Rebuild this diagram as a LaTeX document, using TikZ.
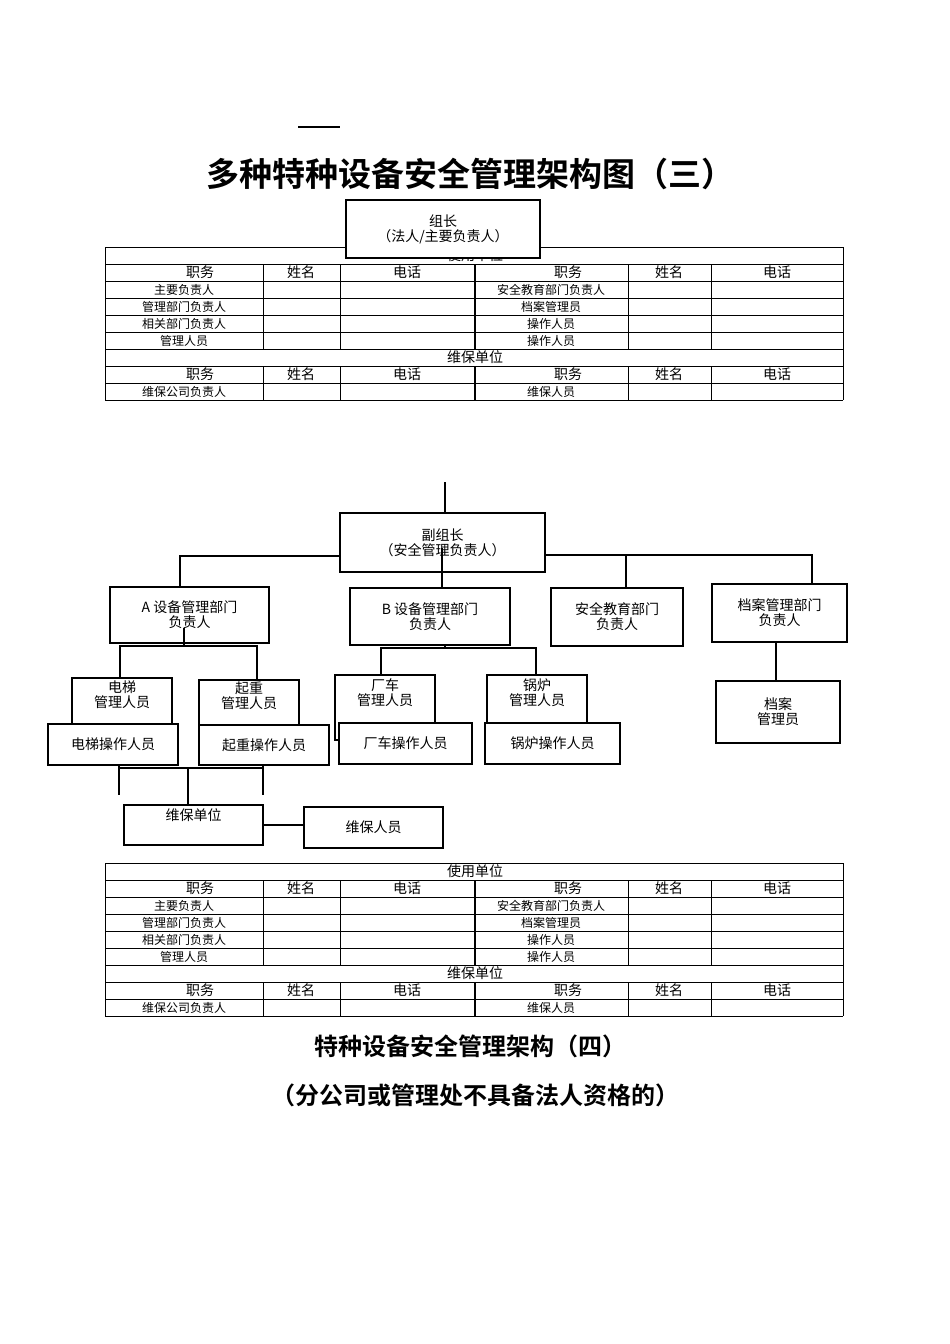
\documentclass[tikz,border=0pt]{standalone}
\usepackage{fontspec}
\setmainfont{Noto Sans CJK SC}
\newfontfamily\cjkb{Noto Sans CJK SC}[BoldFont={* Bold}]
\begin{document}
\begin{tikzpicture}[x=1pt,y=-1pt,
  box/.style={draw,line width=1.8pt,fill=white,align=center,font=\fontsize{14}{15}\selectfont,inner sep=0pt},
  ln/.style={line width=1.8pt},
  tl/.style={line width=0.6pt},
  th/.style={font=\fontsize{14}{14}\selectfont,inner sep=0pt},
  tb/.style={font=\fontsize{12}{12}\selectfont,inner sep=0pt}]
\useasboundingbox (0,0) rectangle (950,1344);
\newcommand\bx[6]{\node[box,minimum width={(#4-#2)*1pt},minimum height={(#5-#3)*1pt}] (#1) at ({(#2+#4)/2},{(#3+#5)/2}) {#6};}
\newcommand\fulltable[1]{%
\begin{scope}[shift={(0,#1)}]
\foreach \y in {0,17,34,51,68,85,102,119,136,153} \draw[tl] (105,\y) -- (843,\y);
\draw[tl] (105,0) -- (105,153) (843,0) -- (843,153);
\foreach \x in {263,340,628,711} \draw[tl] (\x,17) -- (\x,102) (\x,119) -- (\x,153);
\draw[line width=1.2pt] (475,17) -- (475,102) (475,119) -- (475,153);
\node[th] at (475,8.5) {使用单位};
\node[th] at (475,110.5) {维保单位};
\foreach \r in {25.5,127.5}{
 \node[th] at (200,\r) {职务}; \node[th] at (301,\r) {姓名}; \node[th] at (407,\r) {电话};
 \node[th] at (568,\r) {职务}; \node[th] at (669,\r) {姓名}; \node[th] at (777,\r) {电话};}
\node[tb] at (184,42.5) {主要负责人}; \node[tb] at (551,42.5) {安全教育部门负责人};
\node[tb] at (184,59.5) {管理部门负责人}; \node[tb] at (551,59.5) {档案管理员};
\node[tb] at (184,76.5) {相关部门负责人}; \node[tb] at (551,76.5) {操作人员};
\node[tb] at (184,93.5) {管理人员}; \node[tb] at (551,93.5) {操作人员};
\node[tb] at (184,144.5) {维保公司负责人}; \node[tb] at (551,144.5) {维保人员};
\end{scope}}
% dash and title
\draw[line width=2pt] (298,127) -- (340,127);
\node[font=\cjkb\bfseries\fontsize{33}{33}\selectfont] (title) at (470,174) {多种特种设备安全管理架构图（三）};
\fulltable{247}
\bx{zz}{346}{200}{540}{258}{组长\\（法人/主要负责人）}
% org chart
\bx{fzz}{340}{513}{545}{572}{副组长\\（安全管理负责人）}
\coordinate (top) at (445,482);
\draw[ln] (top) -- (top |- fzz.north);
\draw[ln] (fzz.west |- 0,556) -- (180,556) -- (180,587);
\draw[ln] (fzz.east |- 0,555) -- (812,555) -- (812,584);
\draw[ln] (626,555) -- (626,588);
\draw[ln] (442,548) -- (442,588);
\bx{A}{110}{587}{269}{643}{A 设备管理部门\\负责人}
\bx{B}{350}{588}{510}{645}{B 设备管理部门\\负责人}
\bx{S}{551}{588}{683}{646}{安全教育部门\\负责人}
\bx{D}{712}{584}{847}{642}{档案管理部门\\负责人}
\draw[ln] (184,628) -- (184,646);
\draw[ln] (120,677) -- (120,646) -- (257,646) -- (257,680);
\draw[ln] (381,675) -- (381,648) -- (536,648) -- (536,675);
\draw[ln] (445,645) -- (445,648);
\bx{dtg}{72}{678}{172}{728}{电梯\\管理人员\\[3pt]}
\bx{qzg}{199}{680}{299}{728}{起重\\管理人员\\[3pt]}
\bx{cg}{335}{675}{435}{740}{厂车\\管理人员\\[16pt]}
\bx{gg}{487}{675}{587}{728}{锅炉\\管理人员\\[3pt]}
\bx{dto}{48}{724}{178}{765}{电梯操作人员}
\bx{qzo}{199}{725}{329}{765}{起重操作人员}
\bx{co}{339}{723}{472}{764}{厂车操作人员}
\bx{go}{485}{723}{620}{764}{锅炉操作人员}
\bx{dag}{716}{681}{840}{743}{档案\\管理员}
\draw[ln] (D.south -| 776,0) -- (dag.north -| 776,0);
\draw[ln] (119,765) -- (119,795);
\draw[ln] (263,765) -- (263,795);
\draw[ln] (119,768) -- (263,768);
\draw[ln] (188,768) -- (188,805);
\bx{wb}{124}{805}{263}{845}{维保单位\\[6pt]}
\bx{wr}{304}{807}{443}{848}{维保人员}
\draw[ln] (wb.east |- 0,825) -- (wr.west |- 0,825);
\fulltable{863}
\node[font=\cjkb\bfseries\fontsize{24}{24}\selectfont] (t2) at (470,1046) {特种设备安全管理架构（四）};
\node[font=\cjkb\bfseries\fontsize{24}{24}\selectfont] (t3) at (475,1095) {（分公司或管理处不具备法人资格的）};
\end{tikzpicture}
\end{document}
